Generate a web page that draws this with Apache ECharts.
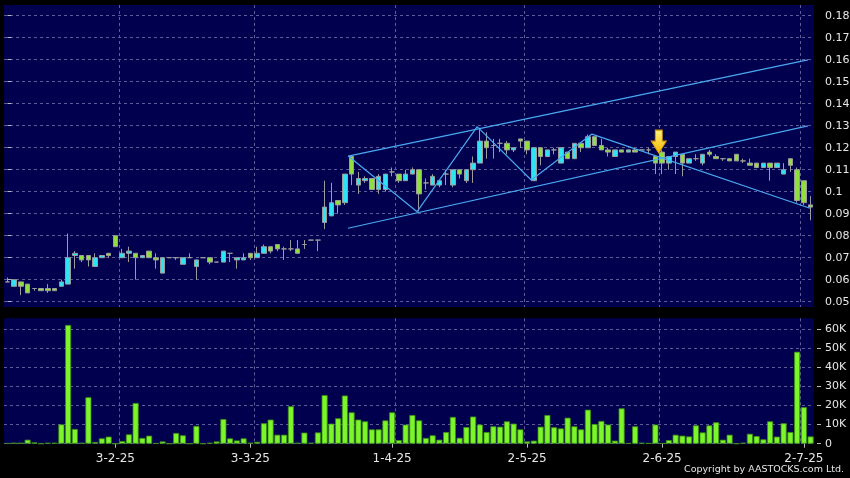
<!DOCTYPE html>
<html><head><meta charset="utf-8">
<script src="https://cdn.jsdelivr.net/npm/echarts@6.0.0/dist/echarts.min.js"></script>
<style>html,body{margin:0;padding:0;background:#000;}#c{width:850px;height:478px;}</style>
</head><body><div id="c"></div>
<script>
// ---- data ----
const openP  = [.059,.057,.059,.058,.056,.056,.056,.056,.057,.058,.071,.071,.071,.066,.070,.072,.080,.070,.072,.072,
                .070,.073,.070,.063,.070,.070,.067,.070,.066,.070,.070,.068,.068,.072,.069,.069,.072,.070,.072,.075,
                .076,.074,.074,.074,.076,.078,.078,.086,.089,.096,.095,.116,.103,.105,.106,.101,.101,.109,.108,.105,
                .108,.110,.104,.103,.103,.108,.103,.110,.105,.110,.113,.123,.121,.122,.122,.119,.124,.123,.105,.120,
                .116,.119,.113,.118,.115,.122,.120,.125,.121,.119,.116,.119,.118,.119,.119,.119,.116,.118,.113,.116,
                .117,.113,.115,.113,.118,.116,.115,.115,.117,.114,.113,.113,.111,.113,.111,.108,.115,.110,.105,.094];
const closeP = [.059,.060,.057,.054,.056,.055,.055,.055,.059,.070,.072,.069,.069,.070,.071,.071,.075,.072,.073,.070,
                .071,.070,.069,.070,.070,.070,.070,.070,.069,.070,.068,.068,.073,.072,.070,.070,.070,.072,.075,.073,
                .074,.074,.074,.072,.076,.078,.078,.093,.095,.094,.108,.108,.106,.106,.101,.107,.108,.109,.105,.108,
                .110,.099,.104,.107,.105,.108,.110,.108,.110,.113,.123,.120,.121,.122,.119,.120,.123,.119,.120,.116,
                .119,.119,.120,.115,.122,.120,.125,.121,.119,.118,.119,.118,.119,.118,.119,.119,.113,.113,.116,.118,
                .113,.115,.115,.117,.117,.115,.115,.114,.114,.114,.112,.111,.113,.111,.113,.110,.112,.096,.095,.093];
const lowP   = [.059,.057,.053,.054,.055,.055,.054,.055,.057,.058,.065,.068,.066,.066,.070,.070,.075,.070,.068,.060,
                .070,.070,.065,.063,.070,.069,.067,.070,.060,.070,.067,.068,.068,.068,.065,.069,.069,.070,.072,.072,
                .073,.069,.073,.072,.074,.078,.073,.083,.089,.090,.094,.103,.099,.104,.101,.099,.100,.107,.104,.105,
                .108,.091,.101,.103,.102,.103,.102,.106,.104,.104,.113,.115,.115,.118,.117,.118,.120,.117,.105,.112,
                .116,.117,.113,.115,.115,.118,.120,.121,.119,.116,.116,.118,.118,.118,.119,.117,.108,.108,.110,.108,
                .107,.113,.114,.112,.116,.115,.114,.114,.114,.113,.112,.111,.111,.105,.111,.108,.109,.095,.094,.087];
const highP  = [.061,.060,.059,.058,.056,.056,.058,.056,.060,.081,.073,.071,.071,.072,.071,.072,.080,.074,.075,.072,
                .071,.073,.072,.070,.070,.070,.070,.072,.069,.070,.070,.068,.073,.072,.070,.072,.072,.075,.076,.075,
                .076,.075,.078,.078,.078,.078,.078,.105,.104,.096,.108,.116,.109,.107,.106,.108,.108,.111,.108,.110,
                .111,.110,.106,.108,.105,.110,.110,.110,.110,.116,.129,.127,.124,.124,.123,.120,.124,.123,.120,.120,
                .119,.120,.120,.118,.122,.122,.126,.125,.124,.120,.119,.119,.119,.120,.119,.120,.116,.119,.116,.118,
                .117,.115,.117,.117,.119,.117,.115,.115,.117,.115,.115,.113,.113,.113,.113,.113,.115,.111,.105,.098];
const volumeK = [0.3,0.5,0.5,2.1,0.7,0,0.5,0.5,10.1,62.1,7.7,0.5,24.3,0.9,2.8,3.7,0,1.4,4.9,21.3,
                 3.0,4.2,0.3,1.2,0,5.6,4.4,0,9.3,0,0.5,1.2,12.9,2.8,1.7,2.8,0.5,1.0,10.7,12.6,
                 4.7,4.7,19.6,0.5,5.8,0.5,5.9,25.4,10.5,13.3,25.2,16.4,12.6,11.7,7.5,7.5,12.2,16.4,1.9,10.0,
                 15.0,12.2,3.0,4.4,2.1,6.1,14.0,3.1,8.7,14.2,10.0,6.1,9.1,8.9,11.7,10.5,7.5,1.2,1.6,8.9,
                 15.0,8.6,8.0,13.6,9.1,7.5,17.8,10.3,11.9,10.0,1.6,18.5,0.3,9.1,0.5,0.3,10.0,0.3,1.9,4.7,
                 4.2,3.8,9.6,5.9,9.6,11.2,2.1,4.7,0,0.5,5.2,4.0,2.3,11.7,3.7,10.7,6.1,48.1,19.1,3.8];
const tickIndex  = [16, 36, 57, 77, 97, 118];
const tickLabels = ['3-2-25', '3-3-25', '1-4-25', '2-5-25', '2-6-25', '2-7-25'];
const gridLineIndex = [17, 37, 58, 77, 97, 118];
const priceMin = 0.05, priceMax = 0.18, priceStep = 0.01;
const volMax = 60000, volStep = 10000;
const upperChannel = [[50.5, 0.1162], [118.6, 0.1599]];
const lowerChannel = [[50.46, 0.0834], [118.6, 0.1299]];
const zigzag = [[50.5, 0.1162], [60.7, 0.0909], [69.6, 0.1296], [77.6, 0.1053], [86.6, 0.1262], [118.9, 0.0925]];
const arrowPoint = [96.5, 0.1175];
const copyright = 'Copyright by AASTOCKS.com Ltd.';

// ---- chart ----
const N = openP.length;
const cats = openP.map((_, i) => String(i));
const FONT = 'DejaVu Sans';
const TXT = '#e6e6e6';
const NAVY = '#00004f';
const GRID_LINE = { color: '#5c5c98', type: [3, 3], width: 1 };
const L = 4, R = 36;

const chart = echarts.init(document.getElementById('c'), null, { renderer: 'canvas' });
const hiddenCat = (g) => ({
  type: 'category', gridIndex: g, data: cats, boundaryGap: true,
  axisLine: { show: false }, axisTick: { show: false }, axisLabel: { show: false },
  splitLine: { show: false }
});
chart.setOption({
  animation: false,
  backgroundColor: '#000',
  textStyle: { fontFamily: FONT },
  grid: [
    { left: L, right: R, top: 15.7, height: 286, outerBoundsMode: 'none', containLabel: false },
    { left: L, right: R, top: 329, height: 114.7, outerBoundsMode: 'none', containLabel: false },
    { left: L, right: R, top: 5, height: 302, outerBoundsMode: 'none', containLabel: false },
    { left: L, right: R, top: 318.3, height: 126, outerBoundsMode: 'none', containLabel: false }
  ],
  graphic: [
    { type: 'rect', z: -10, silent: true, shape: { x: L, y: 5, width: 850 - L - R, height: 302 }, style: { fill: NAVY } },
    { type: 'rect', z: -10, silent: true, shape: { x: L, y: 318.3, width: 850 - L - R, height: 126 }, style: { fill: NAVY } },
    { type: 'text', z: 10, silent: true, right: 6, top: 465,
      style: { text: copyright, fill: TXT, font: '9.5px "DejaVu Sans"' } }
  ],
  xAxis: [
    hiddenCat(0),
    {
      type: 'category', gridIndex: 1, data: cats, boundaryGap: true, offset: 2,
      axisLine: { show: false },
      axisTick: { show: true, alignWithLabel: true, length: 4, interval: (i) => tickIndex.includes(i), lineStyle: { color: '#bbbbbb' } },
      axisLabel: { show: true, interval: (i) => tickIndex.includes(i), color: TXT, fontSize: 12, fontFamily: FONT, margin: 7,
        formatter: (v, i) => { const k = tickIndex.indexOf(Number(v)); return k >= 0 ? tickLabels[k] : ''; } },
      splitLine: { show: false }
    },
    Object.assign(hiddenCat(2), { splitLine: { show: true, interval: (i) => gridLineIndex.includes(i), showMaxLine: false, lineStyle: GRID_LINE } }),
    Object.assign(hiddenCat(3), { splitLine: { show: true, interval: (i) => gridLineIndex.includes(i), showMaxLine: false, lineStyle: GRID_LINE } }),
    { type: 'value', gridIndex: 0, min: -0.5, max: N - 0.5, show: false }
  ],
  yAxis: [
    {
      type: 'value', gridIndex: 0, position: 'right', min: priceMin, max: priceMax, interval: priceStep, offset: 3,
      axisLine: { show: false },
      axisTick: { show: true, length: 4, lineStyle: { color: '#bbbbbb' } },
      axisLabel: { color: TXT, fontSize: 11, fontFamily: FONT, margin: 8, formatter: (v) => String(+v.toFixed(2)) },
      splitLine: { show: true, lineStyle: GRID_LINE }
    },
    {
      type: 'value', gridIndex: 1, position: 'right', min: 0, max: volMax, interval: volStep, offset: 3,
      axisLine: { show: false },
      axisTick: { show: true, length: 4, lineStyle: { color: '#bbbbbb' } },
      axisLabel: { color: TXT, fontSize: 11, fontFamily: FONT, margin: 8, formatter: (v) => v === 0 ? '0' : (v / 1000) + 'K' },
      splitLine: { show: true, lineStyle: GRID_LINE }
    },
    { type: 'value', gridIndex: 2, show: false, splitLine: { show: false } },
    { type: 'value', gridIndex: 3, show: false, splitLine: { show: false } }
  ],
  series: [
    {
      type: 'candlestick', xAxisIndex: 0, yAxisIndex: 0, barWidth: 5,
      data: openP.map((o, i) => [o, closeP[i], lowP[i], highP[i]]),
      itemStyle: { color: '#2ee4f4', color0: '#8fe03c', borderColor: '#9c9c9c', borderColor0: '#9c9c9c', borderColorDoji: '#9c9c9c', borderWidth: 1 },
      silent: true
    },
    {
      type: 'bar', xAxisIndex: 1, yAxisIndex: 1, barWidth: 6, clip: false,
      data: volumeK.map(v => v * 1000),
      itemStyle: { color: '#7cf52a', borderColor: '#3f8f14', borderWidth: 0.8 },
      silent: true
    },
    { type: 'line', xAxisIndex: 4, yAxisIndex: 0, data: upperChannel, symbol: 'none', silent: true, lineStyle: { color: '#4aa8f0', width: 1.2 } },
    { type: 'line', xAxisIndex: 4, yAxisIndex: 0, data: lowerChannel, symbol: 'none', silent: true, lineStyle: { color: '#4aa8f0', width: 1.2 } },
    {
      type: 'line', xAxisIndex: 4, yAxisIndex: 0, data: zigzag, symbol: 'none', silent: true, lineStyle: { color: '#4aa8f0', width: 1.2 },
      markPoint: {
        silent: true, z: 10,
        symbol: 'path://M4,0 L11,0 L11,11 L15,11 L7.5,23 L0,11 L4,11 Z', symbolSize: [15, 23], symbolOffset: [0, -11.5],
        label: { show: false },
        itemStyle: {
          color: new echarts.graphic.LinearGradient(0, 0, 0, 1, [{ offset: 0, color: '#fff27a' }, { offset: 1, color: '#f7b500' }]),
          borderColor: '#d99a00', borderWidth: 1
        },
        data: [{ coord: arrowPoint }]
      }
    }
  ]
});
</script></body></html>
